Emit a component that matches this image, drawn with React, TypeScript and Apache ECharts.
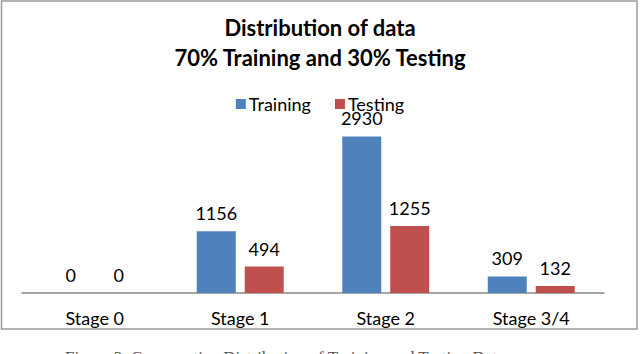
import React, { useEffect, useRef } from "react";
import * as echarts from "echarts";

const categories = ["Stage 0", "Stage 1", "Stage 2", "Stage 3/4"];
const training = [0, 1156, 2930, 309];
const testing = [0, 494, 1255, 132];
const titleLines = ["Distribution of data", "70% Training and 30% Testing"];
const caption = "Figure 3: Comparative Distribution of Training and Testing Data";

export default function App() {
  const ref = useRef<HTMLDivElement>(null);
  useEffect(() => {
    if (!ref.current) return;
    const chart = echarts.init(ref.current, null, { renderer: "svg" });
    const font = "Lato, 'Open Sans', sans-serif";
    const label = {
      show: true,
      position: "top" as const,
      distance: 9,
      color: "#000",
      fontSize: 18,
      fontFamily: font,
    };
    chart.setOption({
      animation: false,
      backgroundColor: "#fff",
      title: {
        text: titleLines.join("\n"),
        left: "center",
        top: 7,
        textStyle: {
          fontSize: 22,
          fontWeight: "bold",
          fontFamily: font,
          color: "#000",
          lineHeight: 30,
        },
      },
      legend: {
        top: 90,
        left: "center",
        itemWidth: 10,
        itemHeight: 10,
        itemGap: 24,
        icon: "rect",
        textStyle: { fontSize: 18, fontFamily: font, color: "#000", padding: [0, 0, 0, -2] },
        data: ["Training", "Testing"],
      },
      grid: { left: 22, right: 36, top: 106, bottom: 61 },
      xAxis: {
        type: "category",
        data: categories,
        axisTick: { show: false },
        axisLine: { lineStyle: { color: "#888", width: 1.5 } },
        axisLabel: { color: "#000", fontSize: 18, fontFamily: font, margin: 16 },
      },
      yAxis: {
        type: "value",
        min: 0,
        max: 3500,
        show: false,
        splitLine: { show: false },
      },
      series: [
        {
          name: "Training",
          type: "bar",
          data: training,
          barWidth: 39,
          barGap: "23%",
          itemStyle: { color: "#4F81BD" },
          label,
        },
        {
          name: "Testing",
          type: "bar",
          data: testing,
          barWidth: 39,
          itemStyle: { color: "#C0504D" },
          label,
        },
      ],
      graphic: [
        {
          type: "rect",
          shape: { x: 1.5, y: 1, width: 635.5, height: 328 },
          style: { fill: "none", stroke: "#999", lineWidth: 1.5 },
          silent: true,
        },
        {
          type: "text",
          left: 65,
          top: 349,
          style: {
            text: caption,
            fontSize: 17,
            fontFamily: "'Liberation Serif', serif",
            fill: "#555",
          },
          silent: true,
        },
      ],
    });
    return () => chart.dispose();
  }, []);
  return (
    <div
      ref={ref}
      style={{ position: "fixed", left: 0, top: 0, width: 640, height: 354 }}
    />
  );
}
